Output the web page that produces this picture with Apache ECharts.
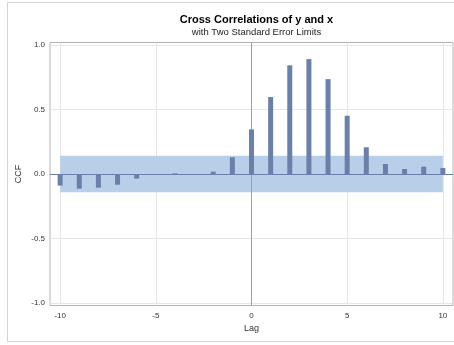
<!DOCTYPE html>
<html>
<head>
<meta charset="utf-8">
<script src="https://cdn.jsdelivr.net/npm/echarts@6/dist/echarts.min.js"></script>
<style>html,body{margin:0;padding:0;background:#fff}#c{width:454px;height:345px}</style>
</head>
<body>
<div id="c"></div>
<script>
const lags = [-10,-9,-8,-7,-6,-5,-4,-3,-2,-1,0,1,2,3,4,5,6,7,8,9,10];
const ccf = [-0.090,-0.114,-0.106,-0.083,-0.036,0.000,0.005,-0.003,0.018,0.130,0.346,0.597,0.843,0.891,0.736,0.452,0.207,0.078,0.039,0.057,0.047];
const stdErrLimit = 0.142;
const xTicks = [-10,-5,0,5,10];
const yTicks = [-1.0,-0.5,0.0,0.5,1.0];

const chart = echarts.init(document.getElementById('c'), null, {renderer:'canvas'});
const font = 'Liberation Sans, Arial, sans-serif';
const gridColor = '#e6e6e6';
const barColor = '#6a80a8';

const gridLines = [];
xTicks.filter(v => v !== 0).forEach(v => gridLines.push({xAxis: v}));
yTicks.forEach(v => { if (v !== 0) gridLines.push({yAxis: v}); });

chart.setOption({
  animation: false,
  graphic: [{
    type: 'rect', shape: {x: 7.5, y: 2.5, width: 460, height: 339}, z: -10,
    style: {fill: 'none', stroke: '#d4d4d4', lineWidth: 1}
  }],
  title: [{
    text: 'Cross Correlations of y and x',
    subtext: 'with Two Standard Error Limits',
    left: 251.5, textAlign: 'center', top: 9, itemGap: 2,
    textStyle: {fontFamily: font, fontSize: 11, fontWeight: 'bold', color: '#000'},
    subtextStyle: {fontFamily: font, fontSize: 9.5, color: '#222'}
  }],
  grid: {left: 50, top: 42.5, width: 403, height: 263, show: true, borderColor: '#b4b4b4', borderWidth: 1, backgroundColor: '#fff'},
  xAxis: {
    type: 'value', min: -10.53, max: 10.53,
    name: 'Lag', nameLocation: 'middle', nameGap: 19, nameMoveOverlap: false,
    nameTextStyle: {fontFamily: font, fontSize: 9, color: '#333'},
    axisLine: {show: false},
    axisTick: {show: true, length: 4, customValues: xTicks, lineStyle: {color: '#999'}},
    axisLabel: {customValues: xTicks, fontFamily: font, fontSize: 8, color: '#333', margin: 6},
    splitLine: {show: false}
  },
  yAxis: {
    type: 'value', min: -1.02, max: 1.02,
    name: 'CCF', nameLocation: 'middle', nameGap: 27, nameMoveOverlap: false,
    nameTextStyle: {fontFamily: font, fontSize: 9, color: '#333'},
    axisLine: {show: false},
    axisTick: {show: true, length: 4, customValues: yTicks, lineStyle: {color: '#999'}},
    axisLabel: {customValues: yTicks, fontFamily: font, fontSize: 8, color: '#333', margin: 5,
      formatter: v => v.toFixed(1)},
    splitLine: {show: false}
  },
  series: [
    {
      type: 'line', data: [], z: 1, silent: true,
      markLine: {z: 1, silent: true, symbol: 'none', label: {show: false},
        lineStyle: {color: gridColor, type: 'solid', width: 1}, data: gridLines}
    },
    {
      type: 'line', data: [], z: 2, silent: true,
      markArea: {z: 2, silent: true, itemStyle: {color: '#b9cfe9'},
        data: [[{coord: [lags[0], -stdErrLimit]}, {coord: [lags[lags.length-1], stdErrLimit]}]]}
    },
    {
      type: 'line', data: [], z: 3, silent: true,
      markLine: {z: 3, silent: true, symbol: 'none', label: {show: false},
        data: [
          {xAxis: 0, lineStyle: {color: '#a0a0a0', type: 'solid', width: 1}},
          {yAxis: 0, lineStyle: {color: barColor, type: 'solid', width: 1}}
        ]}
    },
    {
      type: 'bar', z: 4, barWidth: 5,
      itemStyle: {color: barColor},
      data: lags.map((l, i) => [l, ccf[i]])
    }
  ]
});
</script>
</body>
</html>
